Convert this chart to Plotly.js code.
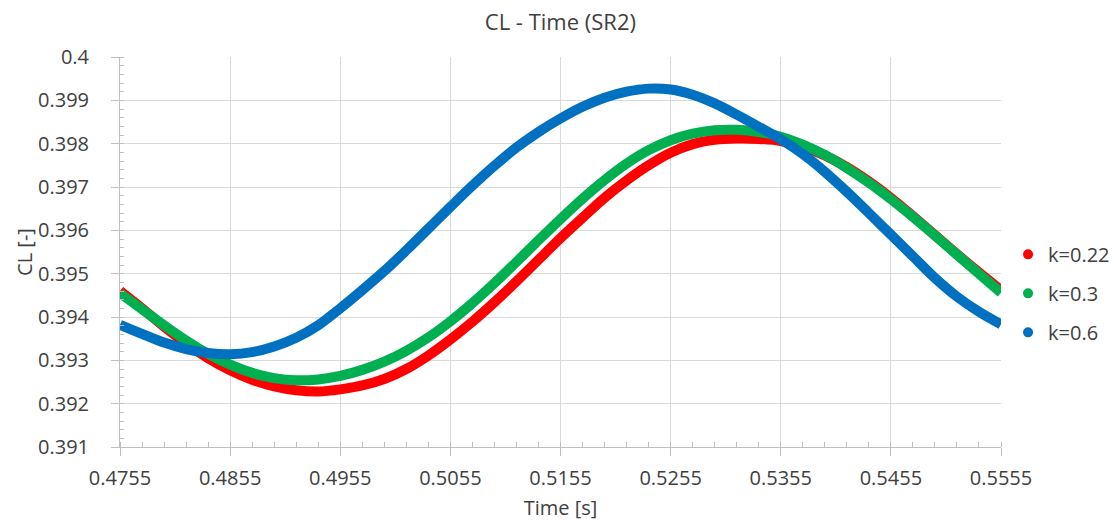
<!DOCTYPE html>
<html>
<head>
<meta charset="utf-8">
<script src="https://cdn.plot.ly/plotly-3.0.1.min.js"></script>
<style>html,body{margin:0;padding:0;background:#fff;}#chart{width:1113px;height:521px;}</style>
</head>
<body>
<div id="chart"></div>
<script>
var time = [0.4755,0.4775,0.4795,0.4815,0.4835,0.4855,0.4875,0.4895,0.4915,0.4935,
            0.4955,0.4975,0.4995,0.5015,0.5035,0.5055,0.5075,0.5095,0.5115,0.5135,
            0.5155,0.5175,0.5195,0.5215,0.5235,0.5255,0.5275,0.5295,0.5315,0.5335,
            0.5355,0.5375,0.5395,0.5415,0.5435,0.5455,0.5475,0.5495,0.5515,0.5535,0.5555];

var clK022 = [0.39460,0.39420,0.39378,0.39339,0.39305,0.39277,0.39255,0.39240,0.39231,0.39228,
              0.39233,0.39242,0.39257,0.39280,0.39311,0.39348,0.39389,0.39434,0.39482,0.39532,
              0.39582,0.39629,0.39675,0.39715,0.39750,0.39779,0.39799,0.39809,0.39812,0.39811,
              0.39806,0.39793,0.39773,0.39746,0.39713,0.39675,0.39633,0.39589,0.39545,0.39503,0.39462];

var clK03 = [0.39455,0.39418,0.39381,0.39346,0.39315,0.39290,0.39271,0.39259,0.39254,0.39256,
             0.39264,0.39278,0.39297,0.39322,0.39353,0.39390,0.39432,0.39478,0.39527,0.39577,
             0.39626,0.39673,0.39716,0.39754,0.39785,0.39808,0.39823,0.39831,0.39832,0.39827,
             0.39816,0.39798,0.39774,0.39744,0.39710,0.39672,0.39631,0.39588,0.39544,0.39500,0.39456];

var clK06 = [0.39382,0.39361,0.39341,0.39326,0.39317,0.39314,0.39319,0.39332,0.39352,0.39381,
             0.39420,0.39462,0.39506,0.39554,0.39604,0.39654,0.39703,0.39749,0.39791,0.39827,
             0.39858,0.39885,0.39906,0.39920,0.39927,0.39925,0.39913,0.39893,0.39867,0.39839,
             0.39810,0.39776,0.39735,0.39689,0.39640,0.39590,0.39540,0.39490,0.39447,0.39412,0.39383];

var seriesNames = ['k=0.22','k=0.3','k=0.6'];
var seriesColors = ['#ff0000','#00b050','#0070c0'];
var seriesValues = [clK022, clK03, clK06];

var xTickLabels = ['0.4755','0.4855','0.4955','0.5055','0.5155','0.5255','0.5355','0.5455','0.5555'];
var yTickLabels = ['0.391','0.392','0.393','0.394','0.395','0.396','0.397','0.398','0.399','0.4'];

var FONT = '"Open Sans", "Noto Sans", sans-serif';
var TXT = '#404040';
var traces = [];
for (var i = 0; i < seriesNames.length; i++) {
  traces.push({
    x: time, y: seriesValues[i], type: 'scatter', mode: 'lines',
    line: {color: seriesColors[i], width: 10, shape: 'spline', smoothing: 1},
    name: seriesNames[i], showlegend: false, hoverinfo: 'x+y'
  });
}
for (var j = 0; j < seriesNames.length; j++) {
  traces.push({
    x: [null], y: [null], type: 'scatter', mode: 'markers',
    marker: {color: seriesColors[j], size: 10},
    name: seriesNames[j], legendgroup: 'g' + j, showlegend: true
  });
}

var layout = {
  width: 1113, height: 521,
  paper_bgcolor: '#ffffff', plot_bgcolor: '#ffffff',
  margin: {l: 120, r: 112, t: 57, b: 74, pad: 0, autoexpand: false},
  font: {family: FONT, color: TXT, size: 20},
  title: {text: 'CL - Time (SR2)', x: 0.5035, xanchor: 'center', y: 0.957, yanchor: 'middle',
          font: {family: FONT, size: 22, color: TXT}},
  showlegend: true,
  legend: {x: 1.008, xanchor: 'left', y: 0.394, yanchor: 'middle',
           font: {family: FONT, size: 20, color: TXT},
           traceorder: 'grouped', tracegroupgap: 10, itemwidth: 30,
           bgcolor: 'rgba(0,0,0,0)'},
  xaxis: {
    range: [0.4755, 0.5555], tickmode: 'array',
    tickvals: xTickLabels.map(Number), ticktext: xTickLabels,
    showgrid: true, gridcolor: '#d9d9d9', gridwidth: 1,
    showline: true, linecolor: '#bfbfbf', linewidth: 1,
    ticks: 'outside', ticklen: 8, tickcolor: '#bfbfbf', ticklabelstandoff: 5,
    minor: {dtick: 0.002, tick0: 0.4755, ticks: 'inside', ticklen: 5, tickcolor: '#bfbfbf', showgrid: false},
    zeroline: false,
    tickfont: {family: FONT, size: 20, color: TXT},
    title: {text: 'Time [s]', font: {family: FONT, size: 20, color: TXT}, standoff: 10}
  },
  yaxis: {
    range: [0.391, 0.4], tickmode: 'array',
    tickvals: yTickLabels.map(Number), ticktext: yTickLabels,
    showgrid: true, gridcolor: '#d9d9d9', gridwidth: 1,
    showline: true, linecolor: '#bfbfbf', linewidth: 1,
    ticks: 'outside', ticklen: 8, tickcolor: '#bfbfbf', ticklabelstandoff: 18,
    minor: {dtick: 0.0002, tick0: 0.391, ticks: 'inside', ticklen: 4, tickcolor: '#bfbfbf', showgrid: false},
    zeroline: false,
    tickfont: {family: FONT, size: 20, color: TXT},
    title: {text: 'CL [-]', font: {family: FONT, size: 20, color: TXT}, standoff: 0}
  }
};

Plotly.newPlot('chart', traces, layout, {displayModeBar: false, staticPlot: true});
</script>
</body>
</html>
